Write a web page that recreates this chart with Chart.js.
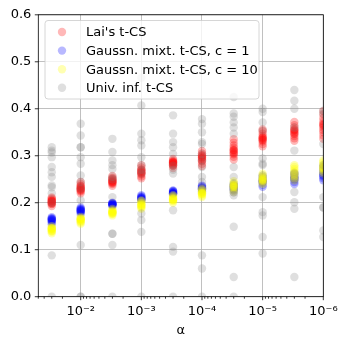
<!DOCTYPE html>
<html>
<head>
<meta charset="utf-8">
<script src="https://cdn.jsdelivr.net/npm/chart.js@4.4.1/dist/chart.umd.min.js"></script>
<style>
  html, body { margin: 0; padding: 0; background: #fff; }
  #wrap { position: relative; width: 348px; height: 347px; }
</style>
</head>
<body>
<div id="wrap"><canvas id="chart"></canvas></div>
<script>
// significance levels (x axis, log scale, reversed)
const alphas = [3e-2, 1e-2, 3e-3, 1e-3, 3e-4, 1e-4, 3e-5, 1e-5, 3e-6, 1e-6];

const seriesLabels = ["Lai's t-CS", 'Gaussn. mixt. t-CS, c = 1', 'Gaussn. mixt. t-CS, c = 10', 'Univ. inf. t-CS'];

// one row per alpha
const laiValues = [
    [0.193, 0.197, 0.200, 0.201, 0.203, 0.205, 0.207, 0.209, 0.211, 0.198, 0.204, 0.200],
    [0.220, 0.224, 0.227, 0.229, 0.231, 0.233, 0.236, 0.240, 0.244, 0.226, 0.230, 0.235],
    [0.236, 0.240, 0.243, 0.245, 0.247, 0.250, 0.253, 0.257, 0.242, 0.248, 0.244, 0.251],
    [0.252, 0.256, 0.260, 0.263, 0.266, 0.268, 0.271, 0.275, 0.280, 0.262, 0.265, 0.270],
    [0.274, 0.278, 0.281, 0.284, 0.286, 0.288, 0.290, 0.293, 0.282, 0.287, 0.285, 0.279],
    [0.278, 0.283, 0.288, 0.292, 0.295, 0.298, 0.301, 0.305, 0.310, 0.290, 0.296, 0.300],
    [0.292, 0.298, 0.303, 0.307, 0.310, 0.313, 0.317, 0.322, 0.328, 0.335, 0.305, 0.312],
    [0.320, 0.325, 0.330, 0.333, 0.336, 0.339, 0.342, 0.347, 0.352, 0.356, 0.334, 0.338],
    [0.332, 0.337, 0.342, 0.346, 0.350, 0.353, 0.356, 0.360, 0.365, 0.372, 0.348, 0.355],
    [0.336, 0.343, 0.350, 0.355, 0.360, 0.364, 0.368, 0.373, 0.380, 0.388, 0.395, 0.366]
];

const mixC1Values = [
    [0.154, 0.158, 0.161, 0.163, 0.165, 0.167, 0.169, 0.160, 0.164, 0.166],
    [0.176, 0.179, 0.182, 0.184, 0.186, 0.188, 0.190, 0.181, 0.185, 0.183],
    [0.193, 0.195, 0.197, 0.199, 0.200, 0.196, 0.198, 0.194, 0.197, 0.199],
    [0.204, 0.206, 0.208, 0.210, 0.212, 0.214, 0.216, 0.207, 0.209, 0.211],
    [0.218, 0.220, 0.222, 0.224, 0.226, 0.219, 0.221, 0.223, 0.225, 0.220],
    [0.224, 0.227, 0.229, 0.231, 0.233, 0.235, 0.237, 0.228, 0.230, 0.232],
    [0.222, 0.226, 0.229, 0.232, 0.235, 0.238, 0.241, 0.228, 0.233, 0.236],
    [0.234, 0.238, 0.242, 0.245, 0.248, 0.251, 0.255, 0.258, 0.244, 0.247],
    [0.240, 0.244, 0.248, 0.251, 0.254, 0.257, 0.260, 0.264, 0.250, 0.253],
    [0.248, 0.252, 0.256, 0.260, 0.264, 0.268, 0.272, 0.276, 0.258, 0.262]
];

const mixC10Values = [
    [0.135, 0.138, 0.141, 0.143, 0.145, 0.147, 0.150, 0.140, 0.144, 0.146],
    [0.155, 0.158, 0.160, 0.163, 0.165, 0.167, 0.170, 0.161, 0.164, 0.166],
    [0.173, 0.176, 0.178, 0.180, 0.182, 0.184, 0.187, 0.177, 0.181, 0.179],
    [0.187, 0.190, 0.193, 0.196, 0.198, 0.200, 0.203, 0.205, 0.192, 0.195],
    [0.200, 0.203, 0.205, 0.207, 0.209, 0.211, 0.214, 0.216, 0.206, 0.208],
    [0.212, 0.215, 0.218, 0.220, 0.222, 0.225, 0.228, 0.230, 0.219, 0.221],
    [0.222, 0.226, 0.230, 0.233, 0.236, 0.239, 0.242, 0.246, 0.234, 0.237],
    [0.240, 0.243, 0.246, 0.249, 0.252, 0.255, 0.258, 0.262, 0.250, 0.247],
    [0.248, 0.252, 0.256, 0.260, 0.264, 0.268, 0.272, 0.276, 0.280, 0.262],
    [0.262, 0.266, 0.270, 0.273, 0.276, 0.279, 0.282, 0.286, 0.290, 0.274]
];

const univValues = [
    [0.318, 0.311, 0.307, 0.297, 0.276, 0.265, 0.255, 0.237, 0.233, 0.220, 0.200, 0.088, 0.0],
    [0.368, 0.343, 0.318, 0.318, 0.297, 0.283, 0.258, 0.244, 0.230, 0.205, 0.110, 0.0, 0.0],
    [0.336, 0.308, 0.290, 0.280, 0.272, 0.255, 0.250, 0.212, 0.134, 0.134, 0.110, 0.0],
    [0.466, 0.407, 0.347, 0.333, 0.322, 0.297, 0.280, 0.270, 0.262, 0.177, 0.163, 0.138, 0.0],
    [0.386, 0.347, 0.329, 0.318, 0.304, 0.279, 0.270, 0.262, 0.184, 0.106, 0.096, 0.0],
    [0.378, 0.368, 0.350, 0.329, 0.325, 0.304, 0.290, 0.276, 0.255, 0.244, 0.088, 0.060, 0.0],
    [0.425, 0.390, 0.383, 0.371, 0.360, 0.347, 0.276, 0.255, 0.216, 0.149, 0.042, 0.0],
    [0.400, 0.393, 0.371, 0.354, 0.294, 0.283, 0.280, 0.212, 0.180, 0.173, 0.127, 0.092],
    [0.440, 0.417, 0.400, 0.360, 0.311, 0.262, 0.223, 0.201, 0.187, 0.042],
    [0.396, 0.390, 0.325, 0.280, 0.212, 0.190, 0.190, 0.141, 0.127]
];

const yTicks = [0, 0.1, 0.2, 0.3, 0.4, 0.5, 0.6];
const supDigits = { '0': '⁰', '1': '¹', '2': '²', '3': '³', '4': '⁴', '5': '⁵', '6': '⁶', '7': '⁷', '8': '⁸', '9': '⁹', '-': '⁻' };

function toPoints(rows) {
    const pts = [];
    rows.forEach(function(row, i) {
        row.forEach(function(v) { pts.push({ x: alphas[i], y: v }); });
    });
    return pts;
}

function isDecade(v) {
    const l = Math.log10(v);
    return Math.abs(l - Math.round(l)) < 1e-6;
}

function decadeLabel(v) {
    const e = String(Math.round(Math.log10(v)));
    return '10' + e.split('').map(function(c) { return supDigits[c]; }).join('');
}

const FONT = "'DejaVu Sans', sans-serif";

// matplotlib-like ticks, frame and legend box
const mplDecor = {
    id: 'mplDecor',
    afterDraw(chart) {
        const ctx = chart.ctx;
        const area = chart.chartArea;
        const xs = chart.scales.x, ys = chart.scales.y;
        ctx.save();
        ctx.strokeStyle = '#000';
        ctx.lineWidth = 0.8;
        // x ticks
        xs.ticks.forEach(function(t) {
            const px = xs.getPixelForValue(t.value);
            const len = isDecade(t.value) ? 3.5 : 2;
            ctx.beginPath();
            ctx.moveTo(px, area.bottom);
            ctx.lineTo(px, area.bottom + len);
            ctx.stroke();
        });
        // y ticks
        ys.ticks.forEach(function(t) {
            const py = ys.getPixelForValue(t.value);
            ctx.beginPath();
            ctx.moveTo(area.left, py);
            ctx.lineTo(area.left - 3.5, py);
            ctx.stroke();
        });
        ctx.strokeRect(area.left, area.top, area.right - area.left, area.bottom - area.top);

        // legend
        const bx = 45, by = 20.5, bw = 214, bh = 78.5;
        ctx.beginPath();
        ctx.roundRect(bx, by, bw, bh, 3);
        ctx.fillStyle = 'rgba(255,255,255,0.8)';
        ctx.fill();
        ctx.strokeStyle = '#cccccc';
        ctx.lineWidth = 0.8;
        ctx.stroke();
        ctx.font = '13px ' + FONT;
        ctx.textBaseline = 'middle';
        chart.data.datasets.forEach(function(ds, i) {
            const ry = 32 + i * 18.6;
            ctx.beginPath();
            ctx.arc(62, ry, 4.2, 0, Math.PI * 2);
            ctx.fillStyle = ds.backgroundColor;
            ctx.fill();
            ctx.fillStyle = '#000';
            ctx.fillText(ds.label, 86, ry + 1);
        });
        ctx.restore();
    }
};

const colors = ['rgba(255,0,0,0.28)', 'rgba(0,0,255,0.28)', 'rgba(255,255,0,0.3)', 'rgba(128,128,128,0.25)'];
const rows = [laiValues, mixC1Values, mixC10Values, univValues];

const ctx = document.getElementById('chart').getContext('2d');
new Chart(ctx, {
    type: 'scatter',
    data: {
        datasets: rows.map(function(r, i) {
            return {
                label: seriesLabels[i],
                data: toPoints(r),
                backgroundColor: colors[i],
                borderWidth: 0,
                pointRadius: 4.2,
                pointHoverRadius: 4.2,
                order: 4 - i
            };
        })
    },
    options: {
        responsive: true,
        maintainAspectRatio: false,
        animation: false,
        events: [],
        layout: { padding: { top: 14, right: 24.7, bottom: 0, left: 0 } },
        plugins: {
            legend: { display: false },
            tooltip: { enabled: false }
        },
        scales: {
            x: {
                type: 'logarithmic',
                reverse: true,
                min: 1e-6,
                max: 0.05,
                afterBuildTicks: function(scale) {
                    const ticks = [];
                    for (let e = -6; e <= -2; e++) {
                        for (let m = 1; m <= 9; m++) {
                            const v = m * Math.pow(10, e);
                            if (v <= 0.05 * 1.0001) ticks.push({ value: v });
                        }
                    }
                    scale.ticks = ticks;
                },
                afterFit: function(scale) { scale.height = 50.3; },
                grid: {
                    drawTicks: false,
                    lineWidth: 0.8,
                    color: function(c) {
                        return c.tick && isDecade(c.tick.value) ? '#b0b0b0' : 'rgba(0,0,0,0)';
                    }
                },
                border: { display: false },
                ticks: {
                    autoSkip: false,
                    maxRotation: 0,
                    padding: 7,
                    color: '#000',
                    font: { family: FONT, size: 13 },
                    callback: function(v) { return isDecade(v) ? decadeLabel(v) : ''; }
                },
                title: {
                    display: true,
                    text: 'α',
                    color: '#000',
                    font: { family: FONT, size: 13 },
                    padding: { top: 0, bottom: 9 }
                }
            },
            y: {
                min: 0,
                max: 0.6,
                afterBuildTicks: function(scale) {
                    scale.ticks = yTicks.map(function(v) { return { value: v }; });
                },
                afterFit: function(scale) { scale.width = 38.3; },
                grid: { drawTicks: false, lineWidth: 0.8, color: '#b0b0b0' },
                border: { display: false },
                ticks: {
                    padding: 7,
                    color: '#000',
                    font: { family: FONT, size: 13 },
                    callback: function(v) { return v.toFixed(1); }
                }
            }
        }
    },
    plugins: [mplDecor]
});
</script>
</body>
</html>
